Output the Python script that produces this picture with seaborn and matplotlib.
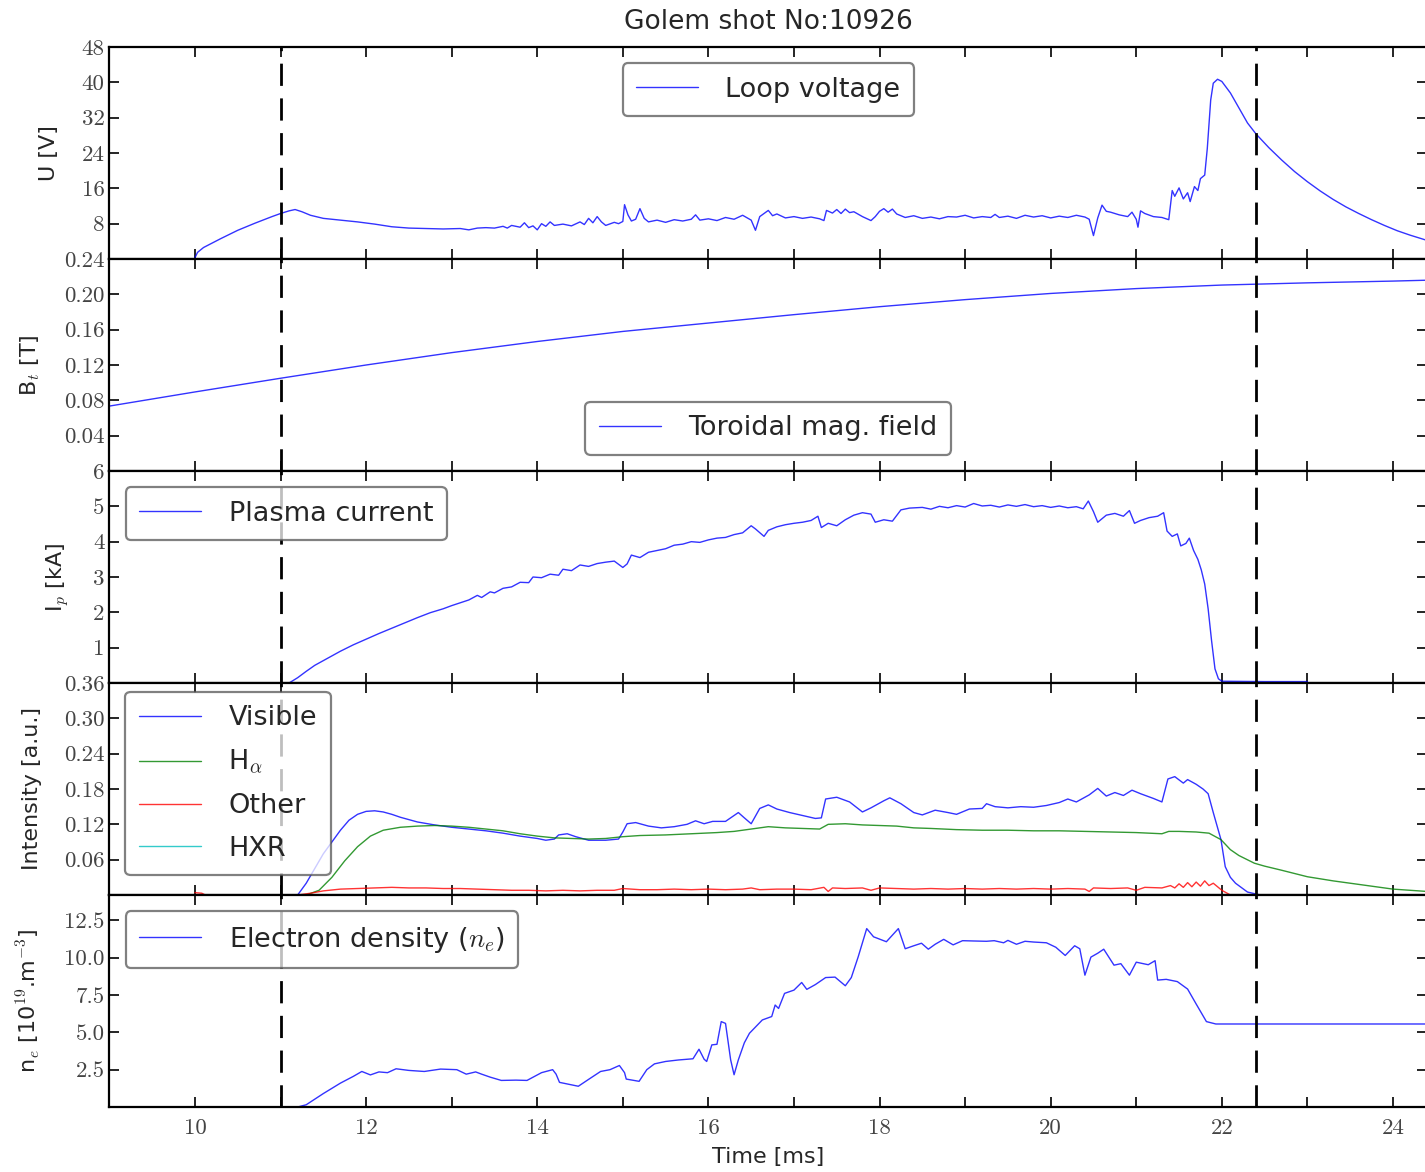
#!/usr/bin/env python3
import numpy as np
import matplotlib
matplotlib.use("Agg")
import matplotlib.pyplot as plt
import seaborn as sns
from matplotlib.ticker import FixedLocator, FormatStrFormatter, MultipleLocator, NullFormatter

# loop voltage [V]
t_u = [10.0, 10.03, 10.1, 10.3, 10.5, 10.7, 10.9, 11.0, 11.1, 11.17, 11.25, 11.35, 11.5, 11.7, 11.9,
       12.1, 12.3, 12.5, 12.7, 12.9, 13.1, 13.2, 13.3, 13.4, 13.5, 13.6, 13.65, 13.7, 13.8, 13.85,
       13.9, 13.95, 14.0, 14.05, 14.1, 14.15, 14.2, 14.3, 14.4, 14.5, 14.55, 14.6, 14.65, 14.7, 14.75,
       14.8, 14.9, 14.95, 15.0, 15.02, 15.06, 15.1, 15.15, 15.2, 15.25, 15.3, 15.4, 15.5, 15.6, 15.7,
       15.8, 15.85, 15.9, 16.0, 16.1, 16.2, 16.3, 16.4, 16.5, 16.55, 16.6, 16.7, 16.75, 16.8, 16.9,
       17.0, 17.1, 17.2, 17.3, 17.35, 17.38, 17.45, 17.5, 17.55, 17.6, 17.65, 17.7, 17.8, 17.9, 17.95,
       18.0, 18.05, 18.1, 18.15, 18.2, 18.3, 18.4, 18.5, 18.6, 18.7, 18.8, 18.9, 19.0, 19.1, 19.2,
       19.3, 19.35, 19.4, 19.5, 19.6, 19.7, 19.8, 19.9, 20.0, 20.1, 20.2, 20.3, 20.4, 20.45, 20.5,
       20.55, 20.6, 20.65, 20.7, 20.8, 20.9, 20.95, 21.0, 21.02, 21.05, 21.1, 21.2, 21.3, 21.38, 21.42,
       21.45, 21.5, 21.55, 21.6, 21.63, 21.68, 21.72, 21.75, 21.8, 21.83, 21.87, 21.9, 21.95, 22.0,
       22.1, 22.2, 22.3, 22.4, 22.55, 22.7, 22.85, 23.0, 23.15, 23.3, 23.45, 23.6, 23.75, 23.9, 24.05,
       24.2, 24.4]
u_loop = [0.3, 1.5, 2.6, 4.6, 6.5, 8.1, 9.6, 10.3, 10.9, 11.2, 10.7, 9.9, 9.2, 8.8, 8.4,
          7.9, 7.3, 7.0, 6.9, 6.8, 6.9, 6.6, 7.0, 7.1, 7.0, 7.4, 7.0, 7.6, 7.2, 8.2,
          7.1, 7.5, 6.6, 8.0, 7.4, 8.4, 7.6, 7.9, 7.5, 8.4, 7.8, 9.2, 8.2, 9.6, 8.4,
          7.6, 8.3, 8.0, 8.5, 12.3, 10.0, 8.6, 9.0, 11.4, 9.2, 8.4, 8.8, 8.3, 8.9, 8.6,
          9.0, 10.0, 8.8, 9.1, 8.7, 9.4, 9.0, 9.9, 8.8, 6.5, 9.6, 11.0, 9.8, 10.2, 9.3,
          9.6, 9.2, 9.5, 9.1, 8.7, 11.0, 10.4, 11.2, 10.3, 11.3, 10.5, 10.7, 9.6, 8.7, 9.6,
          10.8, 11.4, 10.6, 11.3, 10.2, 9.4, 9.8, 9.2, 9.5, 9.1, 9.6, 9.5, 9.9, 9.3, 9.6,
          9.4, 10.1, 9.4, 9.7, 9.2, 9.9, 9.5, 9.8, 9.3, 9.7, 9.4, 9.9, 9.5, 9.0, 5.3,
          9.3, 12.2, 10.8, 10.6, 10.0, 9.6, 10.6, 9.0, 7.2, 10.9, 10.3, 9.6, 9.4, 8.9, 15.5,
          14.2, 16.1, 13.6, 15.0, 13.0, 16.4, 15.5, 18.2, 19.0, 25.0, 36.0, 39.8, 40.7, 40.2,
          37.6, 34.2, 30.8, 28.3, 25.2, 22.4, 19.8, 17.5, 15.4, 13.5, 11.8, 10.3, 8.9, 7.6, 6.4,
          5.4, 4.2]

# toroidal field [T]
t_bt = [9.0, 10.0, 11.0, 12.0, 13.0, 14.0, 15.0, 16.0, 17.0, 18.0, 19.0, 20.0, 21.0, 22.0, 23.0, 24.0, 24.4]
b_tor = [0.0735, 0.0895, 0.105, 0.120, 0.134, 0.1466, 0.158, 0.1675, 0.177, 0.186, 0.194, 0.201,
         0.2065, 0.2105, 0.213, 0.215, 0.216]

# plasma current [kA]
t_ip = [11.1, 11.2, 11.3, 11.4, 11.55, 11.7, 11.85, 12.0, 12.15, 12.3, 12.45, 12.6, 12.75, 12.9, 13.0,
        13.1, 13.2, 13.3, 13.35, 13.45, 13.5, 13.6, 13.7, 13.8, 13.9, 13.95, 14.05, 14.15, 14.25, 14.3,
        14.4, 14.5, 14.6, 14.7, 14.8, 14.9, 15.0, 15.05, 15.1, 15.2, 15.3, 15.4, 15.5, 15.6, 15.7,
        15.8, 15.9, 16.0, 16.1, 16.2, 16.3, 16.4, 16.5, 16.55, 16.65, 16.7, 16.8, 16.9, 17.0, 17.1,
        17.2, 17.28, 17.32, 17.4, 17.5, 17.6, 17.7, 17.8, 17.9, 17.95, 18.05, 18.15, 18.25, 18.35, 18.5,
        18.6, 18.7, 18.8, 18.9, 19.0, 19.1, 19.2, 19.3, 19.4, 19.5, 19.6, 19.7, 19.8, 19.9, 20.0,
        20.1, 20.2, 20.3, 20.38, 20.44, 20.5, 20.55, 20.65, 20.75, 20.85, 20.92, 20.98, 21.05, 21.15, 21.25,
        21.32, 21.36, 21.42, 21.48, 21.52, 21.58, 21.62, 21.67, 21.72, 21.76, 21.8, 21.84, 21.88, 21.92, 21.96,
        22.0, 22.5, 23.0]
i_plasma = [0.0, 0.15, 0.33, 0.50, 0.70, 0.90, 1.08, 1.24, 1.40, 1.55, 1.70, 1.85, 1.99, 2.10, 2.19,
            2.27, 2.35, 2.48, 2.42, 2.58, 2.55, 2.68, 2.72, 2.85, 2.84, 3.00, 2.98, 3.08, 3.05, 3.22,
            3.18, 3.34, 3.30, 3.38, 3.42, 3.45, 3.27, 3.37, 3.62, 3.55, 3.70, 3.75, 3.80, 3.90, 3.93,
            4.00, 3.98, 4.05, 4.10, 4.12, 4.20, 4.25, 4.45, 4.36, 4.15, 4.32, 4.42, 4.48, 4.52, 4.55,
            4.60, 4.72, 4.40, 4.52, 4.45, 4.62, 4.75, 4.82, 4.78, 4.55, 4.62, 4.58, 4.90, 4.95, 4.97,
            4.92, 5.00, 4.96, 5.02, 4.98, 5.08, 5.01, 5.03, 4.98, 5.04, 5.00, 5.05, 4.99, 5.02, 4.97,
            5.01, 4.96, 4.99, 4.93, 5.15, 4.85, 4.55, 4.75, 4.80, 4.72, 4.88, 4.52, 4.60, 4.68, 4.72,
            4.82, 4.30, 4.15, 4.22, 3.88, 3.95, 4.10, 3.75, 3.50, 3.20, 2.80, 2.10, 1.20, 0.40, 0.12,
            0.05, 0.04, 0.04]

# spectral intensities [a.u.]
t_vis = [11.2, 11.3, 11.4, 11.5, 11.6, 11.7, 11.8, 11.9, 12.0, 12.1, 12.2, 12.3, 12.4, 12.5, 12.6,
         12.8, 13.0, 13.2, 13.4, 13.6, 13.8, 14.0, 14.1, 14.2, 14.25, 14.35, 14.45, 14.6, 14.8, 14.95,
         15.0, 15.05, 15.15, 15.3, 15.45, 15.6, 15.75, 15.85, 15.95, 16.05, 16.2, 16.35, 16.42, 16.5, 16.6,
         16.7, 16.8, 16.95, 17.1, 17.25, 17.32, 17.37, 17.5, 17.65, 17.8, 17.9, 18.05, 18.12, 18.25, 18.4,
         18.5, 18.65, 18.8, 18.9, 19.05, 19.2, 19.25, 19.35, 19.5, 19.65, 19.8, 19.95, 20.1, 20.2, 20.3,
         20.45, 20.55, 20.65, 20.75, 20.85, 20.95, 21.05, 21.2, 21.3, 21.37, 21.45, 21.55, 21.6, 21.7, 21.78,
         21.84, 21.9, 21.99, 22.04, 22.1, 22.16, 22.3, 22.45, 23.0]
visible = [0.0, 0.02, 0.045, 0.07, 0.09, 0.11, 0.127, 0.137, 0.142, 0.143, 0.141, 0.137, 0.132, 0.128, 0.124,
           0.119, 0.115, 0.112, 0.109, 0.105, 0.100, 0.096, 0.093, 0.095, 0.102, 0.104, 0.099, 0.093, 0.093, 0.095,
           0.107, 0.121, 0.123, 0.117, 0.114, 0.116, 0.120, 0.126, 0.121, 0.125, 0.125, 0.140, 0.131, 0.121, 0.147,
           0.153, 0.146, 0.140, 0.135, 0.130, 0.131, 0.163, 0.166, 0.158, 0.141, 0.148, 0.160, 0.165, 0.155, 0.140,
           0.136, 0.144, 0.140, 0.137, 0.146, 0.147, 0.155, 0.150, 0.148, 0.150, 0.149, 0.152, 0.157, 0.163, 0.158,
           0.170, 0.181, 0.168, 0.174, 0.169, 0.178, 0.172, 0.164, 0.158, 0.197, 0.201, 0.190, 0.196, 0.188, 0.180,
           0.172, 0.140, 0.094, 0.048, 0.030, 0.020, 0.005, 0.0, 0.0]

t_ha = [11.3, 11.45, 11.6, 11.75, 11.9, 12.05, 12.2, 12.4, 12.6, 12.8, 13.0, 13.2, 13.4, 13.6, 13.8,
        14.0, 14.2, 14.4, 14.6, 14.8, 15.0, 15.2, 15.5, 15.8, 16.1, 16.3, 16.5, 16.7, 16.9, 17.1,
        17.3, 17.4, 17.6, 17.8, 18.0, 18.2, 18.4, 18.6, 18.9, 19.2, 19.5, 19.8, 20.1, 20.4, 20.7,
        21.0, 21.3, 21.38, 21.5, 21.7, 21.85, 21.99, 22.1, 22.2, 22.38, 22.5, 22.7, 23.0, 23.3, 23.6,
        24.0, 24.4]
h_alpha = [0.0, 0.008, 0.030, 0.058, 0.082, 0.100, 0.110, 0.115, 0.117, 0.118, 0.117, 0.115, 0.112, 0.109, 0.104,
           0.100, 0.097, 0.096, 0.095, 0.096, 0.099, 0.101, 0.102, 0.104, 0.106, 0.108, 0.112, 0.116, 0.114, 0.113,
           0.112, 0.120, 0.121, 0.119, 0.118, 0.117, 0.114, 0.113, 0.111, 0.110, 0.110, 0.109, 0.109, 0.108, 0.107,
           0.106, 0.104, 0.108, 0.108, 0.107, 0.105, 0.094, 0.077, 0.067, 0.054, 0.049, 0.042, 0.031, 0.024, 0.018,
           0.010, 0.006]

t_oth = [10.0, 10.08, 10.12, 11.2, 11.35, 11.5, 11.7, 11.9, 12.1, 12.3, 12.5, 12.7, 12.9, 13.1, 13.3,
         13.5, 13.7, 13.9, 14.1, 14.3, 14.5, 14.7, 14.9, 15.0, 15.2, 15.4, 15.6, 15.8, 16.0, 16.2,
         16.4, 16.5, 16.6, 16.8, 17.0, 17.2, 17.35, 17.4, 17.45, 17.6, 17.8, 17.9, 18.0, 18.2, 18.4,
         18.6, 18.8, 19.0, 19.2, 19.4, 19.6, 19.8, 20.0, 20.2, 20.4, 20.45, 20.5, 20.7, 20.9, 21.0,
         21.1, 21.3, 21.4, 21.45, 21.5, 21.55, 21.6, 21.65, 21.7, 21.75, 21.8, 21.85, 21.9, 21.95, 22.0,
         22.1, 24.4]
other = [0.004, 0.003, 0.0, 0.0, 0.003, 0.007, 0.010, 0.011, 0.012, 0.013, 0.012, 0.012, 0.011, 0.011, 0.010,
         0.009, 0.008, 0.008, 0.007, 0.008, 0.007, 0.008, 0.008, 0.011, 0.009, 0.009, 0.010, 0.009, 0.010, 0.009,
         0.010, 0.012, 0.009, 0.010, 0.010, 0.009, 0.013, 0.006, 0.012, 0.011, 0.012, 0.008, 0.012, 0.011, 0.010,
         0.011, 0.010, 0.011, 0.010, 0.011, 0.010, 0.011, 0.010, 0.011, 0.010, 0.006, 0.012, 0.011, 0.012, 0.008,
         0.013, 0.012, 0.016, 0.012, 0.019, 0.013, 0.021, 0.014, 0.022, 0.015, 0.024, 0.016, 0.020, 0.014, 0.008,
         0.0, 0.0]

t_hxr = [10.0, 24.4]
hxr = [0.0, 0.0]

# electron density [1e19 m^-3]
t_ne = [11.2, 11.3, 11.5, 11.7, 11.85, 11.95, 12.05, 12.15, 12.25, 12.35, 12.5, 12.68, 12.87, 13.06, 13.17,
        13.28, 13.35, 13.45, 13.58, 13.75, 13.88, 14.05, 14.18, 14.22, 14.26, 14.48, 14.6, 14.74, 14.85, 14.96,
        15.02, 15.04, 15.19, 15.28, 15.37, 15.5, 15.65, 15.82, 15.89, 15.95, 15.98, 16.04, 16.1, 16.15, 16.2,
        16.26, 16.3, 16.35, 16.42, 16.48, 16.63, 16.74, 16.78, 16.82, 16.89, 17.0, 17.09, 17.15, 17.25, 17.37,
        17.48, 17.6, 17.67, 17.75, 17.85, 17.93, 18.08, 18.22, 18.3, 18.4, 18.49, 18.57, 18.65, 18.75, 18.86,
        18.97, 19.1, 19.25, 19.34, 19.45, 19.5, 19.6, 19.7, 19.8, 19.95, 20.06, 20.17, 20.28, 20.34, 20.4,
        20.47, 20.55, 20.62, 20.74, 20.82, 20.92, 21.0, 21.14, 21.22, 21.25, 21.35, 21.48, 21.6, 21.7, 21.82,
        21.93, 24.4]
n_e = [0.0, 0.15, 0.9, 1.6, 2.05, 2.38, 2.15, 2.35, 2.3, 2.56, 2.45, 2.38, 2.54, 2.5, 2.2,
       2.35, 2.2, 2.0, 1.78, 1.80, 1.78, 2.3, 2.5, 2.2, 1.65, 1.39, 1.85, 2.38, 2.5, 2.78,
       2.3, 1.87, 1.72, 2.5, 2.89, 3.05, 3.15, 3.23, 3.87, 3.2, 3.05, 4.16, 4.2, 5.72, 5.6,
       3.16, 2.16, 3.16, 4.3, 4.94, 5.83, 6.06, 6.83, 6.6, 7.61, 7.83, 8.34, 7.88, 8.2, 8.67,
       8.7, 8.12, 8.67, 10.05, 11.95, 11.4, 11.07, 11.95, 10.6, 10.8, 10.97, 10.57, 10.9, 11.23, 10.86,
       11.14, 11.12, 11.1, 11.14, 11.0, 11.16, 10.9, 11.1, 11.05, 11.0, 10.7, 10.15, 10.8, 10.6, 8.83,
       10.04, 10.3, 10.57, 9.5, 9.6, 8.83, 9.7, 9.53, 9.8, 8.5, 8.55, 8.4, 7.9, 6.9, 5.72,
       5.56, 5.56]

t_marks = [11.0, 22.4]
shot_no = 10926

sns.set_style("ticks")
plt.rcParams.update({
    "font.family": ["DejaVu Sans"],
    "mathtext.fontset": "cm",
    "axes.linewidth": 1.6,
    "axes.edgecolor": "black",
    "xtick.direction": "in",
    "ytick.direction": "in",
    "xtick.top": True,
    "ytick.right": True,
})

fig = plt.figure(figsize=(14.25, 11.72), dpi=100)
W, H = 1425.0, 1172.0
left, right = 109.4 / W, 1427.2 / W
edges = [47, 259, 471, 683, 895, 1107]
axes = []
for i in range(5):
    top, bot = edges[i], edges[i + 1]
    axes.append(fig.add_axes([left, 1 - bot / H, right - left, (bot - top) / H]))

blue = dict(color="b", lw=1.0, alpha=0.8)
ax1, ax2, ax3, ax4, ax5 = axes
sns.lineplot(x=t_u, y=u_loop, ax=ax1, label="Loop voltage", estimator=None, sort=False, **blue)
sns.lineplot(x=t_bt, y=b_tor, ax=ax2, label="Toroidal mag. field", estimator=None, sort=False, **blue)
sns.lineplot(x=t_ip, y=i_plasma, ax=ax3, label="Plasma current", estimator=None, sort=False, **blue)
sns.lineplot(x=t_vis, y=visible, ax=ax4, label="Visible", estimator=None, sort=False, **blue)
sns.lineplot(x=t_ha, y=h_alpha, ax=ax4, label=r"H$_\alpha$", estimator=None, sort=False,
             color="g", lw=1.0, alpha=0.8)
sns.lineplot(x=t_oth, y=other, ax=ax4, label="Other", estimator=None, sort=False,
             color="r", lw=1.0, alpha=0.8)
sns.lineplot(x=t_hxr, y=hxr, ax=ax4, label="HXR", estimator=None, sort=False,
             color="c", lw=1.0, alpha=0.8)
sns.lineplot(x=t_ne, y=n_e, ax=ax5, label=r"Electron density ($n_e$)", estimator=None, sort=False, **blue)

ylims = [48, 0.24, 6, 0.36, 14.2]
yticks = [[8, 16, 24, 32, 40, 48],
          [0.04, 0.08, 0.12, 0.16, 0.20, 0.24],
          [1, 2, 3, 4, 5, 6],
          [0.06, 0.12, 0.18, 0.24, 0.30, 0.36],
          [2.5, 5.0, 7.5, 10.0, 12.5]]
yfmt = ["%d", "%.2f", "%d", "%.2f", "%.1f"]
ylabels = ["U [V]", r"B$_t$ [T]", r"I$_p$ [kA]", "Intensity [a.u.]",
           r"n$_e$ [10$^{19}$.m$^{-3}$]"]
leg_loc = ["upper center", "lower center", "upper left", "upper left", "upper left"]

for i, ax in enumerate(axes):
    ax.set_xlim(9, 24.4)
    ax.set_ylim(0, ylims[i])
    ax.yaxis.set_major_locator(FixedLocator(yticks[i]))
    ax.yaxis.set_major_formatter(FormatStrFormatter(yfmt[i]))
    ax.xaxis.set_major_locator(MultipleLocator(2))
    ax.xaxis.set_minor_locator(MultipleLocator(1))
    ax.tick_params(which="both", direction="in", top=True, right=True, length=7, width=1.2,
                   labelsize=16.5, labelfontfamily="cmr10", colors="black")
    ax.tick_params(axis="both", labelcolor="#444444")
    ax.tick_params(axis="x", pad=8)
    if i < 4:
        ax.xaxis.set_major_formatter(NullFormatter())
    ax.set_xlabel("")
    ax.set_ylabel(ylabels[i], fontsize=16, labelpad=16)
    for spine in ax.spines.values():
        spine.set_linewidth(1.6)
    for tm in t_marks:
        ax.axvline(tm, color="k", lw=2.0, ls=(0, (8, 4.5)), zorder=3)
    leg_kw = dict(fontsize=19.5, handlelength=2.3, handletextpad=1.0, borderpad=0.5,
                  labelspacing=0.62, fancybox=True, framealpha=0.75)
    if i == 3:
        # this legend sits closer to the top edge than the others
        leg = ax.legend(loc="upper left", bbox_to_anchor=(0.0122, 0.958), borderaxespad=0, **leg_kw)
    else:
        leg = ax.legend(loc=leg_loc[i], borderaxespad=0.6, **leg_kw)
    leg.get_frame().set_edgecolor("#555555")
    leg.get_frame().set_linewidth(1.6)

fig.text(768 / W, 1 - 22 / H, "Golem shot No:%d" % shot_no, ha="center", va="center", fontsize=19)
fig.text(768 / W, 1 - 1157 / H, "Time [ms]", ha="center", va="center", fontsize=16)

fig.savefig("out.png", dpi=100)
